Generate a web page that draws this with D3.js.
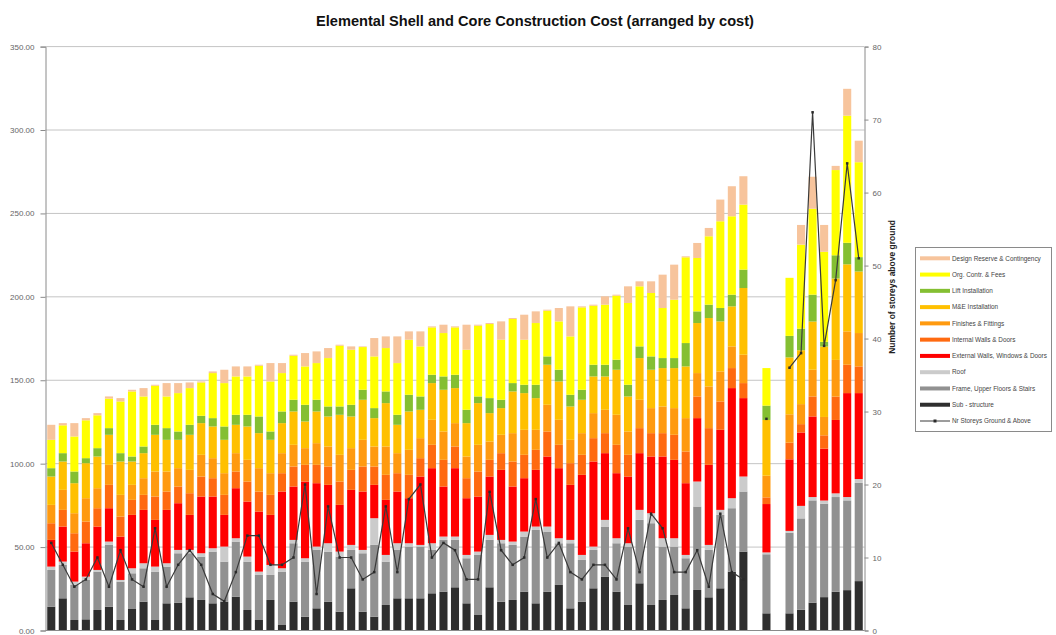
<!DOCTYPE html>
<html><head><meta charset="utf-8">
<script src="https://cdn.jsdelivr.net/npm/d3@7"></script>
<style>body{margin:0;background:#fff;} svg{display:block;font-family:"Liberation Sans",Arial,sans-serif;}</style>
</head><body><svg id="c" width="1056" height="635"></svg>
<script>
// ---------- DATA ----------
const categories = ["B01","B02","B03","B04","B05","B06","B07","B08","B09","B10",
 "B11","B12","B13","B14","B15","B16","B17","B18","B19","B20",
 "B21","B22","B23","B24","B25","B26","B27","B28","B29","B30",
 "B31","B32","B33","B34","B35","B36","B37","B38","B39","B40",
 "B41","B42","B43","B44","B45","B46","B47","B48","B49","B50",
 "B51","B52","B53","B54","B55","B56","B57","B58","B59","B60",
 "B61","gap1","C01","gap2","T01","T02","T03","T04","T05","T06","T07"];

const seriesNames = ["Sub - structure","Frame, Upper Floors & Stairs","Roof","External Walls, Windows & Doors",
 "Internal Walls & Doors","Finishes & Fittings","M&E Installation","Lift Installation","Org. Contr. & Fees",
 "Design Reserve & Contingency"];
const lineName = "Nr Storeys Ground & Above";

const subStructure = [14.3,19.3,6.3,6.7,12.3,14.3,6.3,12.9,17.3,6.3,
 16.3,16.7,19.9,18.3,16.3,17.3,20.3,12.3,6.3,18.3,
 3.3,17.3,8.3,13.3,17.3,11.3,25.3,11.3,8.3,15.3,
 19.3,19.3,19.3,22.3,23.3,25.9,16.3,9.3,25.9,17.3,
 18.3,23.3,16.3,23.3,27.3,13.3,17.3,25.3,32.3,23.3,
 15.3,28.3,15.3,18.3,21.3,13.3,24.3,19.9,25.3,35.3,
 47.3,null,10.3,null,10.3,12.4,16.7,20.0,23.2,24.2,29.6];
const frameFloors = [22.0,20.0,21.0,23.6,23.0,37.0,23.0,21.4,20.0,29.0,
 22.0,29.6,26.4,26.0,31.0,24.0,33.0,29.0,27.0,15.0,
 32.0,35.0,33.0,35.0,30.0,33.0,23.0,35.0,43.0,26.0,
 29.0,31.0,31.0,26.0,31.0,28.4,27.0,36.0,28.4,35.0,
 33.0,33.0,44.0,36.0,25.0,39.0,25.0,23.0,30.0,29.0,
 35.0,38.0,49.0,32.0,29.0,30.0,50.0,28.4,44.0,38.0,
 36.0,null,35.4,null,48.3,54.8,61.3,56.0,56.8,53.8,58.9];
const roof = [2,2,2,2,1,2,1,3,3,3,
 2,2,2,2,2,9,2,3,2,6,
 2,2,2,2,5,3,3,2,16,4,
 4,2,1,4,2,2,2,2,3,2,
 2,3,2,3,3,2,3,2,4,3,
 2,6,6,5,5,2,15,3,3,6,
 9,null,1.1,null,1.1,7.5,2.0,1.9,2.2,2.0,2.3];
const externalWalls = [16,21,18,20,26,20,26,32,32,28,
 32,28,21,34,31,19,30,33,36,30,
 46,32,46,38,35,28,33,35,20,33,
 31,27,41,45,30,41,34,33,35,42,
 33,32,34,42,42,33,48,51,40,39,
 40,34,34,49,47,43,38,48,48,66,
 47,null,29.0,null,42.9,44.0,48.3,31.1,44.0,62.3,51.5];
const internalWalls = [10,10,11,13,11,14,12,9,9,14,
 11,10,13,12,11,12,10,12,12,12,
 11,12,10,11,11,14,12,15,11,15,
 11,14,11,14,16,13,12,15,10,10,
 15,14,12,15,14,13,12,14,12,17,
 13,15,14,14,15,19,13,22,17,12,
 9,null,4,null,10,5,12,8,14,17,16];
const finishes = [11,12,12,14,12,12,13,9,10,15,
 12,11,14,13,12,13,11,13,14,13,
 12,13,10,13,12,16,13,16,12,17,
 12,15,12,15,17,14,13,16,11,11,
 17,15,12,16,15,14,13,15,14,18,
 14,17,15,16,16,20,14,25,18,13,
 17,null,13,null,17,12,16,11,22,20,20];
const meInstallation = [17,17,18,21,19,18,20,14,15,22,
 19,17,21,19,19,20,17,20,21,20,
 18,20,16,19,18,24,19,24,17,26,
 17,23,17,22,25,21,20,25,17,16,
 25,22,19,24,23,20,20,22,20,27,
 21,25,23,23,24,31,30,41,30,24,
 40,null,33.4,null,34.1,32.3,28.9,42.2,48.8,40.2,36.9];
const liftInstallation = [5,5,7,3,5,4,5,3,4,6,
 7,5,6,4.4,5,8,6,7,10,5,
 7,7,10,7,6,5,7,6,6,7,
 6,10,8,5,8,8,8,4,9,5,
 5,5,8,5,7,7,6,7,7,6,
 7,7,8,6,6,14,7,8,8,7,
 11,null,8.6,null,12.9,12.9,16.1,2.8,13.9,12.9,8.6];
const orgContrFees = [17,16.7,21,22.7,19.7,17.7,31,39,30,23.4,
 19,23,22,20,27,26,23,23,30.4,30,
 23,26.4,23,22,29,36.4,33,25.6,31,26,
 31,33,30,28.4,26,28.4,36,42.4,44.4,36,
 38.4,27,37,27.4,29,35,49.4,35.4,36,38.4,
 49,36,38,30,35,51.4,32,41,52,47,
 39,null,22.5,null,34.8,50.4,51.5,54.0,51.1,76.2,56.9];
const designReserve = [9,1.3,8,1.3,1.3,1.3,2,1,5,0.6,
 8,6,3.4,0.6,1,8,6,6,0.6,11,
 6,0.6,8,7,6,0.6,2,0.4,11,7,
 16,5,9,0.6,5,0.6,15,0.6,0.6,11,
 0.6,15,7,0.6,8,18,0.6,0.6,5,0.6,
 10,3,7,20,21,0.6,9,5,13,18,
 17,null,0,null,0,11.8,19.2,16.1,2.5,16.1,12.9];
const storeys = [12,9,6,7,10,6,11,7,6,14,
 6,9,11,9,5,4,8,13,13,9,
 9,10,20,5,17,10,10,7,8,17,
 8,18,20,10,12,11,7,7,19,11,
 9,10,18,10,12,8,7,9,9,7,
 14,8,16,14,8,8,11,6,16,8,
 7,null,29,null,36,38,71,39,48,64,51];

const costTicks = [0,50,100,150,200,250,300,350];
const storeyTicks = [0,10,20,30,40,50,60,70,80];

// ---------- STYLE ----------
const colors = ["#2e2e2e","#919191","#cbcbcb","#ff0000","#ff6a10","#ff9a10","#ffc000","#84bf32","#ffff00","#f7c49c"];
const seriesData = [subStructure,frameFloors,roof,externalWalls,internalWalls,finishes,meInstallation,liftInstallation,orgContrFees,designReserve];

const svg = d3.select("#c");
const L = 45.5, R = 864.5, T = 46.6, B = 630.5;

const rows = categories.map((c,i)=>{
  const r = {cat:c, empty: subStructure[i]==null};
  seriesNames.forEach((s,k)=> r[s] = seriesData[k][i] ?? 0);
  return r;
});

const x = d3.scaleBand().domain(categories).range([L,R]).paddingInner(0.3).paddingOuter(0.15);
const y = d3.scaleLinear().domain([0,350]).range([B,T]);
const y2 = d3.scaleLinear().domain([0,80]).range([B,T]);

// gridlines
svg.append("g").selectAll("line").data(costTicks.filter(d=>d>0)).join("line")
  .attr("x1",L).attr("x2",R).attr("y1",d=>y(d)).attr("y2",d=>y(d))
  .attr("stroke","#c4c4c4").attr("stroke-width",1);

// stacked bars
const stack = d3.stack().keys(seriesNames)(rows);
svg.append("g").selectAll("g").data(stack).join("g")
  .attr("fill",(d,i)=>colors[i])
  .selectAll("rect").data(d=>d.filter(p=>!p.data.empty)).join("rect")
  .attr("x",d=>x(d.data.cat)).attr("width",x.bandwidth())
  .attr("y",d=>y(d[1])).attr("height",d=>Math.max(0,y(d[0])-y(d[1])));

// axes
const ax = svg.append("g").attr("transform",`translate(${L},0)`)
  .call(d3.axisLeft(y).tickValues(costTicks).tickFormat(d3.format(".2f")).tickSize(5).tickPadding(6));
const ax2 = svg.append("g").attr("transform",`translate(${R},0)`)
  .call(d3.axisRight(y2).tickValues(storeyTicks).tickSize(4).tickPadding(4));
[ax,ax2].forEach(a=>{
  a.select(".domain").attr("stroke","#8a8a8a");
  a.selectAll(".tick line").attr("stroke","#8a8a8a");
  a.selectAll("text").attr("fill","#666").style("font-size","8px").style("font-family","'Liberation Sans',Arial,sans-serif");
});
svg.append("line").attr("x1",L).attr("x2",R).attr("y1",B).attr("y2",B).attr("stroke","#8a8a8a");

// storeys line
const line = d3.line().defined(d=>d.v!=null)
  .x(d=>x(d.cat)+x.bandwidth()/2).y(d=>y2(d.v));
const pts = categories.map((c,i)=>({cat:c,v:storeys[i]}));
svg.append("path").datum(pts).attr("d",line).attr("fill","none").attr("stroke","#3a3a3a").attr("stroke-width",1.2);
svg.append("g").selectAll("rect").data(pts.filter(p=>p.v!=null)).join("rect")
  .attr("x",d=>x(d.cat)+x.bandwidth()/2-1.25).attr("y",d=>y2(d.v)-1.25)
  .attr("width",2.5).attr("height",2.5).attr("fill","#2a2a2a");

// title
svg.append("text").attr("x",535).attr("y",26).attr("text-anchor","middle")
  .style("font-size","14.6px").style("font-weight","bold").attr("fill","#111")
  .text("Elemental Shell and Core Construction Cost (arranged by cost)");

// right axis title
svg.append("text").attr("transform","translate(895,287) rotate(-90)").attr("text-anchor","middle")
  .style("font-size","8.5px").style("font-weight","bold").attr("fill","#222")
  .text("Number of storeys above ground");

// legend
const lg = svg.append("g");
lg.append("rect").attr("x",915.5).attr("y",247.5).attr("width",136).attr("height",184)
  .attr("fill","#fff").attr("stroke","#8a8a8a");
const legendItems = seriesNames.map((s,i)=>({name:s,color:colors[i]})).reverse();
legendItems.push({name:lineName,color:"#3a3a3a",isLine:true});
const li = lg.selectAll("g").data(legendItems).join("g")
  .attr("transform",(d,i)=>`translate(0,${258.3+i*16.27})`);
li.append("line").attr("x1",920).attr("x2",950).attr("y1",0).attr("y2",0)
  .attr("stroke",d=>d.color).attr("stroke-width",d=>d.isLine?1:4);
li.filter(d=>d.isLine).append("rect").attr("x",933.5).attr("y",-1.5).attr("width",3).attr("height",3).attr("fill","#2a2a2a");
li.append("text").attr("x",952).attr("y",0).attr("dy","0.35em")
  .style("font-size","6.4px").attr("fill","#444").text(d=>d.name);
</script></body></html>
